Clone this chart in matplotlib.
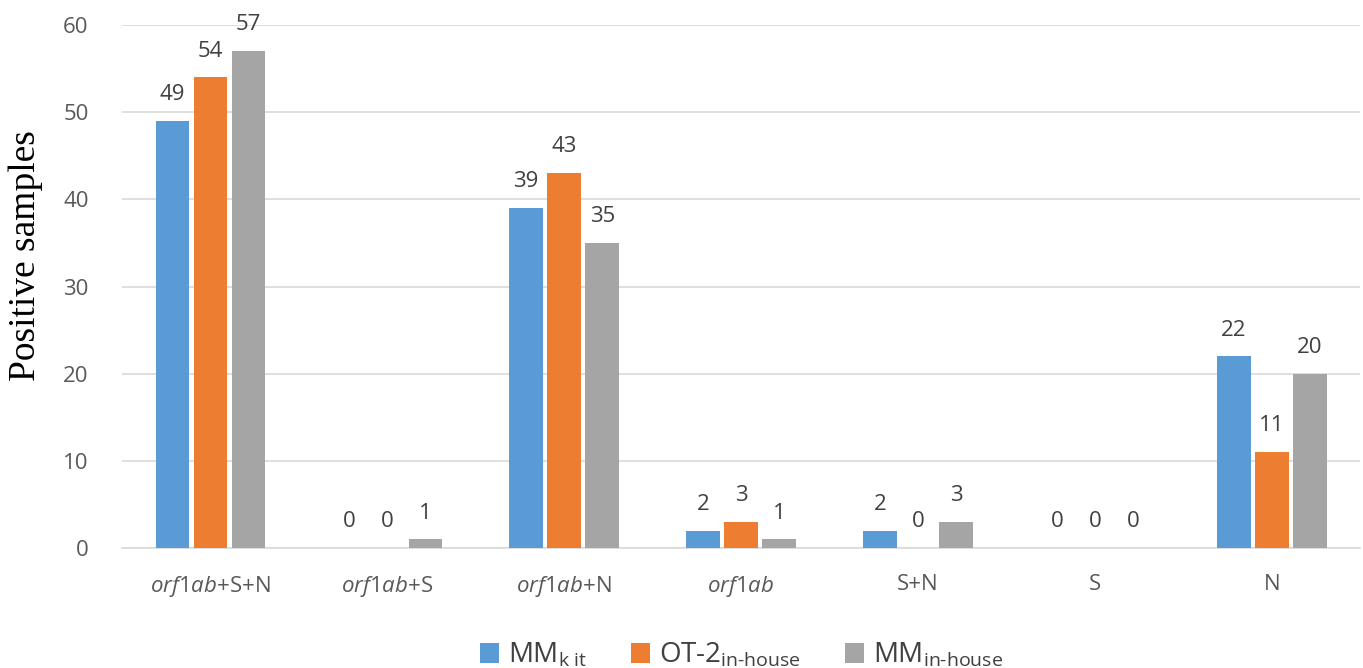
import matplotlib.pyplot as plt
import numpy as np

categories = ['orf1ab+S+N', 'orf1ab+S', 'orf1ab+N', 'orf1ab', 'S+N', 'S', 'N']
italic_part = ['orf1ab', 'orf1ab', 'orf1ab', 'orf1ab', '', '', '']
mm_kit = [49, 0, 39, 2, 2, 0, 22]
ot2_inhouse = [54, 0, 43, 3, 0, 0, 11]
mm_inhouse = [57, 1, 35, 1, 3, 0, 20]

series = [
    (mm_kit, r'MM$_{\text{k it}}$', '#5b9bd5'),
    (ot2_inhouse, r'OT-2$_{\text{in-house}}$', '#ed7d31'),
    (mm_inhouse, r'MM$_{\text{in-house}}$', '#a5a5a5'),
]

plt.rcParams['font.family'] = ['Open Sans', 'DejaVu Sans']
plt.rcParams['mathtext.fontset'] = 'custom'
plt.rcParams['mathtext.rm'] = 'Open Sans'
plt.rcParams['mathtext.it'] = 'Open Sans:italic'

fig = plt.figure(figsize=(13.63, 6.68), dpi=100)
ax = fig.add_axes([0.0895, 0.1796, 0.9085, 0.783])

x = np.arange(len(categories))
width = 0.19
offset = 0.215
for i, (vals, label, color) in enumerate(series):
    pos = x + (i - 1) * offset
    ax.bar(pos, vals, width, color=color, label=label, zorder=3)
    for xp, v in zip(pos, vals):
        ax.text(xp, v + 1.8, str(v), ha='center', va='bottom',
                fontsize=16, color='#404040')

ax.set_ylim(0, 60)
ax.set_xlim(-0.5, len(categories) - 0.5)
ax.set_yticks(range(0, 61, 10))
ax.yaxis.grid(True, color='#d9d9d9', linewidth=1.2, zorder=0)
for s in ['top', 'right', 'left']:
    ax.spines[s].set_visible(False)
ax.spines['bottom'].set_color('#d9d9d9')
ax.spines['bottom'].set_linewidth(1.2)
ax.tick_params(axis='y', length=0, labelsize=16, colors='#595959', pad=24)
ax.tick_params(axis='x', length=0, labelsize=16, colors='#595959', pad=19)

# x labels with italic gene name part
ax.set_xticks(x)
labels = []
for cat, it in zip(categories, italic_part):
    if it:
        labels.append(r'$\mathit{' + it + r'}$' + cat[len(it):])
    else:
        labels.append(cat)
ax.set_xticklabels(labels)

ax.set_ylabel('Positive samples', family='Liberation Serif', fontsize=27,
              color='black')
ax.yaxis.set_label_coords(-0.064, 0.56)

leg = ax.legend(loc='upper center', bbox_to_anchor=(0.5, -0.13), ncol=3,
                frameon=False, fontsize=20, handlelength=0.7, handleheight=0.7,
                handletextpad=0.3, columnspacing=1.6)
for t in leg.get_texts():
    t.set_color('#404040')

fig.savefig('out.png', dpi=100)
